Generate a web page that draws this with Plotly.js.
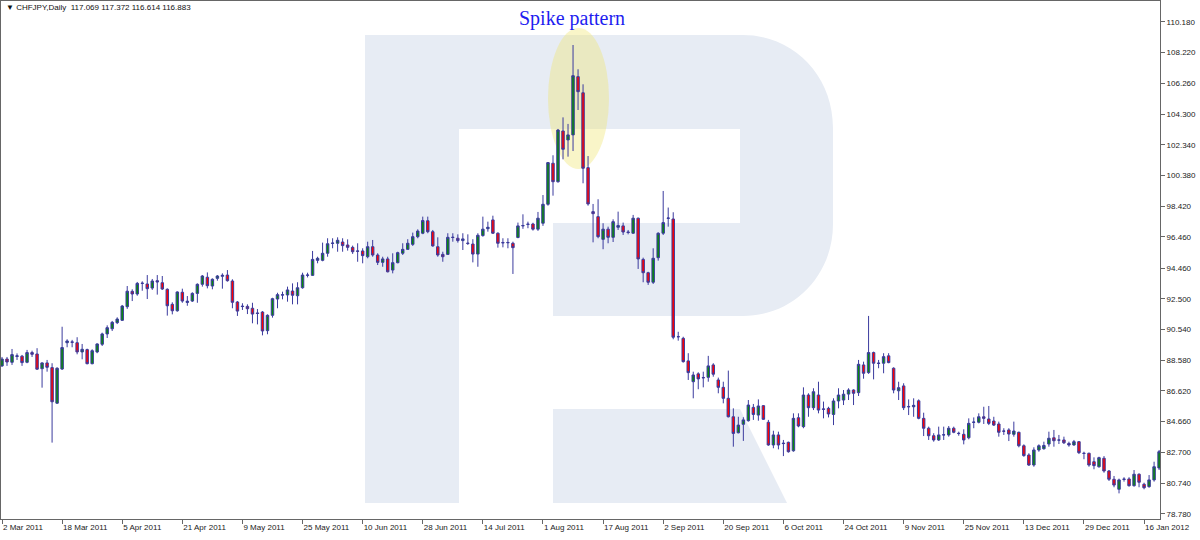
<!DOCTYPE html>
<html>
<head>
<meta charset="utf-8">
<script src="https://cdn.plot.ly/plotly-3.0.1.min.js"></script>
<style>
html,body{margin:0;padding:0;background:#fff;}
#chart{width:1200px;height:540px;}
</style>
</head>
<body>
<div id="chart"></div>
<script>
// CHFJPY Daily, 2 Mar 2011 .. late Jan 2012 (one candle per trading day)
const opens = [88.22,88.66,88.45,88.82,88.84,88.45,89.07,88.98,88.04,88.41,
88.11,85.84,88.02,89.70,89.75,89.70,89.11,89.26,88.36,89.11,
89.60,90.26,90.59,90.98,91.13,92.00,92.98,92.81,93.48,93.45,
93.19,93.66,93.53,93.11,92.15,91.74,92.92,92.27,92.36,92.85,
93.43,93.88,93.32,93.81,93.94,94.02,93.64,92.30,92.04,92.02,
91.90,91.60,91.66,90.47,91.45,92.49,92.74,92.75,93.00,92.70,
93.21,94.00,94.00,94.96,94.96,95.41,96.04,96.05,96.13,95.94,
95.79,95.56,95.56,95.19,95.83,95.30,94.83,95.05,94.34,94.81,
95.41,95.66,95.98,96.47,96.69,97.49,96.79,95.83,95.34,95.34,
96.44,96.37,96.22,96.06,96.00,95.36,96.54,96.98,97.54,96.69,
96.10,96.08,96.05,96.42,97.16,97.25,97.28,96.95,97.33,98.54,
101.16,99.98,103.22,102.65,102.97,106.69,105.66,100.88,98.07,97.75,
96.30,96.95,96.43,97.07,97.16,96.77,96.69,97.65,95.02,94.17,
93.56,95.13,96.69,97.64,97.60,90.09,89.98,88.54,87.21,87.71,
87.48,87.49,88.28,87.32,86.85,86.15,84.97,83.95,84.49,84.72,
85.57,85.08,85.68,84.62,83.17,83.81,83.29,83.34,82.80,84.91,
84.34,86.36,85.55,86.36,85.47,85.51,85.12,85.98,86.04,86.42,
86.68,86.51,88.28,87.79,89.07,88.40,88.39,88.86,88.07,86.63,
86.94,85.63,85.61,85.99,84.87,84.24,83.76,83.49,83.81,83.81,
84.24,83.92,83.85,83.63,84.61,84.62,84.97,84.83,84.70,84.51,
84.06,84.13,83.85,83.98,83.12,82.53,81.89,82.85,82.93,83.23,
83.63,83.49,83.49,83.27,83.17,83.38,82.64,82.64,82.10,81.78,
82.32,81.51,80.98,80.34,80.97,81.00,80.57,81.30,80.66,80.51,
80.94,81.70];
const highs = [88.79,88.79,89.30,89.02,88.92,89.24,89.19,89.35,88.45,88.60,
88.39,88.13,90.72,89.92,89.88,90.05,89.62,89.32,89.28,89.66,
90.34,90.81,91.09,91.32,92.11,93.32,93.11,93.58,93.62,94.02,
93.77,94.02,93.96,93.17,92.28,92.98,93.15,92.68,92.92,93.49,
94.02,94.19,93.81,94.02,94.13,94.34,93.75,92.36,92.22,92.15,
92.25,91.85,91.72,91.51,92.57,92.89,92.96,93.28,93.49,93.56,
94.17,94.17,95.56,95.19,96.09,96.37,96.37,96.43,96.37,96.30,
95.90,96.05,95.73,96.15,96.26,95.41,95.19,95.19,95.41,95.51,
96.05,96.31,96.73,96.94,97.75,97.75,96.90,96.43,95.51,96.69,
96.69,96.62,96.69,96.62,96.31,96.69,97.75,97.43,97.81,96.75,
96.37,96.37,96.15,97.37,97.90,97.43,97.36,98.05,99.13,101.24,
101.67,103.35,104.09,103.67,108.71,107.16,106.20,101.62,98.56,98.86,
97.33,97.11,97.58,98.07,97.37,96.90,97.86,97.69,95.13,94.23,
95.73,96.75,99.39,98.33,98.03,90.40,90.08,89.03,87.85,87.81,
87.85,88.86,88.39,87.47,87.21,87.92,85.51,84.97,84.94,86.04,
85.79,86.08,85.72,84.77,84.08,84.02,83.49,83.38,85.19,85.19,
86.85,86.47,86.79,87.21,85.94,85.61,86.15,86.79,86.68,86.79,
86.72,88.60,88.49,91.41,89.13,88.60,89.03,89.03,88.13,87.21,
87.11,86.08,86.15,86.08,85.23,84.34,83.92,84.34,84.34,84.38,
84.34,84.02,84.17,84.87,84.93,85.19,85.61,85.66,84.97,84.66,
84.24,84.24,84.66,84.02,83.21,82.64,83.02,83.21,83.38,84.02,
84.13,83.81,83.70,83.38,83.49,83.42,82.74,82.68,82.38,82.42,
82.46,81.57,81.19,81.02,81.11,81.11,81.57,81.36,80.76,81.25,
82.10,82.85];
const lows = [88.15,88.22,88.28,88.60,88.22,88.39,88.79,87.96,86.83,87.85,
83.32,85.79,87.96,89.41,89.41,88.96,88.64,88.32,88.32,89.03,
89.49,90.00,90.45,90.89,91.09,91.86,92.36,92.70,93.02,92.49,
93.07,92.77,93.07,91.43,91.51,91.68,92.25,92.06,92.30,92.25,
93.28,93.17,93.11,93.66,93.15,93.60,91.90,91.41,91.79,91.53,
90.94,90.87,90.17,90.24,91.30,91.90,92.47,92.32,92.15,92.15,
93.15,93.87,93.96,94.77,94.90,95.19,95.73,95.51,95.51,95.58,
95.37,94.87,94.77,95.09,95.19,94.66,94.55,94.19,94.13,94.77,
95.30,95.62,95.88,96.37,96.63,96.69,95.83,95.19,94.87,95.30,
96.15,96.09,95.62,95.94,94.83,94.55,96.47,96.79,96.65,95.77,
95.79,95.73,94.09,96.37,96.97,97.01,96.86,96.84,97.16,98.45,
99.09,99.92,101.41,101.58,101.94,104.56,99.88,98.45,96.11,96.37,
95.67,96.05,96.13,96.90,96.58,96.62,96.65,94.41,93.56,93.39,
93.45,94.94,96.58,97.11,89.92,89.83,88.43,87.32,86.15,86.73,
86.85,87.21,87.53,86.47,85.83,84.93,83.06,83.91,83.43,84.66,
84.77,84.72,84.77,83.12,82.96,82.89,82.46,82.68,82.74,84.30,
84.24,84.97,85.40,85.19,84.87,84.93,84.44,85.51,85.72,86.04,
85.72,86.30,87.40,87.71,87.36,88.07,87.75,88.39,86.47,86.04,
85.40,85.08,84.97,84.81,83.74,83.49,83.38,83.43,83.49,83.70,
83.92,83.76,83.21,83.53,84.24,84.55,84.51,84.44,84.38,83.70,
83.81,83.42,83.70,83.02,82.42,81.83,81.78,82.74,82.87,83.06,
83.06,83.23,83.23,83.06,83.12,82.59,82.26,81.78,81.62,81.72,
81.40,80.87,80.47,80.08,80.83,80.51,80.51,80.47,80.34,80.44,
80.83,81.57];
const closes = [88.66,88.47,88.94,88.86,88.43,89.07,88.96,88.01,88.41,88.13,
85.93,88.07,89.39,89.81,89.73,89.11,89.28,88.36,89.19,89.62,
90.26,90.66,91.00,91.21,92.04,92.99,92.81,93.49,93.50,93.15,
93.64,93.58,93.13,92.06,91.74,92.94,92.36,92.35,92.85,93.43,
93.96,93.34,93.75,93.96,94.00,93.66,92.28,91.72,92.01,91.87,
91.53,91.57,90.45,91.45,92.51,92.77,92.76,93.07,92.73,93.21,
94.02,94.02,95.02,95.09,95.41,96.02,96.06,96.24,95.90,95.79,
95.51,95.54,95.26,95.83,95.30,94.83,95.05,94.23,94.81,95.45,
95.66,96.05,96.47,96.83,97.50,96.79,95.88,95.30,95.19,96.43,
96.42,96.22,96.33,96.04,95.36,96.56,96.95,97.07,96.69,96.05,
96.08,96.10,95.77,97.16,97.18,97.27,96.95,97.65,98.54,101.20,
99.98,103.28,102.05,102.97,106.75,105.73,100.84,98.56,97.94,96.47,
96.95,96.43,97.43,97.18,96.77,96.74,97.65,95.05,94.17,93.56,
95.09,96.69,97.37,97.66,90.05,90.08,88.49,87.79,87.64,87.39,
87.46,88.22,87.69,86.85,86.15,84.97,83.91,84.44,84.77,85.72,
85.12,85.66,84.81,83.17,83.81,83.17,83.26,82.74,84.87,84.38,
86.36,85.55,86.57,85.40,85.45,85.15,85.98,86.36,86.41,86.68,
86.47,88.32,87.75,89.07,88.39,88.38,88.81,88.43,86.68,86.83,
85.55,85.61,85.70,84.87,84.24,83.76,83.49,83.81,83.82,84.24,
83.98,83.90,83.49,84.55,84.63,84.97,84.87,84.55,84.44,83.98,
84.05,83.87,84.06,83.12,82.49,81.89,82.85,83.12,83.14,83.60,
83.44,83.48,83.31,83.17,83.38,82.68,82.63,81.89,81.85,82.36,
81.51,80.98,80.61,80.94,80.99,80.57,81.30,80.79,80.44,80.94,
81.78,82.74];

const dateTickLabels = ['2 Mar 2011','18 Mar 2011','5 Apr 2011','21 Apr 2011','9 May 2011',
'25 May 2011','10 Jun 2011','28 Jun 2011','14 Jul 2011','1 Aug 2011','17 Aug 2011',
'2 Sep 2011','20 Sep 2011','6 Oct 2011','24 Oct 2011','9 Nov 2011','25 Nov 2011',
'13 Dec 2011','29 Dec 2011','16 Jan 2012'];
const candlesPerLabel = 12;
const priceTicks = [78.78,80.74,82.70,84.66,86.62,88.58,90.54,92.50,94.46,96.46,
98.42,100.38,102.34,104.30,106.26,108.22,110.18];
const headerText = '\u25BC CHFJPY,Daily\u00a0 117.069 117.372 116.614 116.883';
const noteText = 'Spike pattern';

const idx = opens.map((_, i) => i);
const tickPos = dateTickLabels.map((_, k) => k * candlesPerLabel);

// layout geometry helpers (pixel -> paper)
const L = 1, R = 40, T = 1, B = 21, W = 1200, H = 540;
const pw = W - L - R, ph = H - T - B;
const px = x => (x - L) / pw;
const py = y => (H - B - y) / ph;
const P = (x, y) => px(x).toFixed(5) + ',' + py(y).toFixed(5);

const wm = '#e7ecf4';
const bowl = 'M' + P(457,35) + ' L' + P(743,35) + ' C' + P(793,35) + ' ' + P(833,75) + ' ' + P(833,128) +
  ' L' + P(833,224) + ' C' + P(833,276) + ' ' + P(793,316) + ' ' + P(743,316) +
  ' L' + P(553,316) + ' L' + P(553,223) + ' L' + P(740,223) + ' L' + P(740,129) + ' L' + P(457,129) + ' Z';
const leg = 'M' + P(553,409) + ' L' + P(740,409) + ' L' + P(787,503) + ' L' + P(553,503) + ' Z';

const shapes = [
  {type:'rect', xref:'paper', yref:'paper', x0:px(365), x1:px(459), y0:py(503), y1:py(35),
   fillcolor:wm, line:{width:0}, layer:'below'},
  {type:'path', xref:'paper', yref:'paper', path:bowl, fillcolor:wm, line:{width:0}, layer:'below'},
  {type:'path', xref:'paper', yref:'paper', path:leg, fillcolor:wm, line:{width:0}, layer:'below'},
  {type:'circle', xref:'paper', yref:'paper', x0:px(548), x1:px(609), y0:py(169), y1:py(28),
   fillcolor:'rgba(240,230,110,0.38)', line:{width:0}, layer:'below'}
];

const trace = {
  type:'candlestick',
  x: idx, open: opens, high: highs, low: lows, close: closes,
  increasing:{line:{color:'#3b3b9e', width:1}, fillcolor:'#0a8a0a'},
  decreasing:{line:{color:'#3b3b9e', width:1}, fillcolor:'#ff0000'},
  whiskerwidth:0,
  hoverinfo:'skip',
  showlegend:false
};

const axisFont = {family:'Liberation Sans, Arial, sans-serif', size:8, color:'#222'};

const layout = {
  width:W, height:H,
  margin:{l:L, r:R, t:T, b:B, pad:0},
  paper_bgcolor:'#ffffff', plot_bgcolor:'rgba(0,0,0,0)',
  showlegend:false,
  xaxis:{
    type:'linear', range:[-0.2, 231.18],
    tickmode:'array', tickvals:tickPos, ticktext:dateTickLabels,
    ticks:'outside', ticklen:4, tickcolor:'#666', tickwidth:1,
    ticklabelposition:'outside right',
    showgrid:false, zeroline:false,
    showline:true, linecolor:'#666', linewidth:1, mirror:true,
    tickfont:axisFont,
    rangeslider:{visible:false},
    fixedrange:true
  },
  yaxis:{
    side:'right', range:[78.443, 111.52],
    tickmode:'array', tickvals:priceTicks, ticktext:priceTicks.map(v => v.toFixed(3)),
    ticks:'outside', ticklen:4, tickcolor:'#666', tickwidth:1,
    showgrid:false, zeroline:false,
    showline:true, linecolor:'#666', linewidth:1, mirror:true,
    tickfont:axisFont,
    fixedrange:true
  },
  shapes: shapes,
  annotations:[
    {xref:'paper', yref:'paper', x:px(4), y:py(8), xanchor:'left', yanchor:'middle',
     text:headerText, showarrow:false,
     font:{family:'Liberation Sans, Arial, sans-serif', size:8, color:'#111'}},
    {xref:'paper', yref:'paper', x:px(572), y:py(18), xanchor:'center', yanchor:'middle',
     text:noteText, showarrow:false,
     font:{family:'Liberation Serif, Times New Roman, serif', size:20, color:'#1e1ef0'}}
  ]
};

Plotly.newPlot('chart', [trace], layout, {staticPlot:true, displayModeBar:false});
</script>
</body>
</html>
